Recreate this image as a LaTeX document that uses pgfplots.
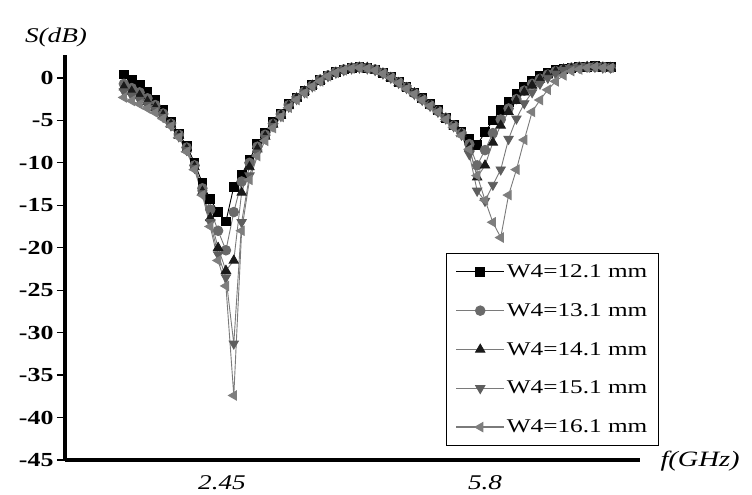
\documentclass[border=0pt]{standalone}
\usepackage{fontspec}
\setmainfont{Liberation Serif}[FakeStretch=1.3]
\usepackage{pgfplots}
\usepackage{pgfplotstable}
\pgfplotsset{compat=1.18}
\definecolor{c12}{HTML}{000000}
\definecolor{c13}{HTML}{6A6A6A}
\definecolor{c14}{HTML}{1A1A1A}
\definecolor{c15}{HTML}{5E5E5E}
\definecolor{c16}{HTML}{7E7E7E}
\definecolor{ln}{HTML}{7A7A7A}
\pgfplotstableread{
f a b c d e
1.2 0.4 -0.7 -1.1 -1.6 -2.3
1.3 -0.2 -1.2 -1.6 -2.1 -2.7
1.4 -0.8 -1.7 -2.1 -2.6 -3.1
1.5 -1.6 -2.4 -2.8 -3.2 -3.6
1.6 -2.6 -3.2 -3.5 -3.8 -4.1
1.7 -3.8 -4.2 -4.4 -4.6 -4.8
1.8 -5.2 -5.4 -5.5 -5.6 -5.7
1.9 -6.6 -6.7 -6.8 -6.9 -7.0
2.0 -8.0 -8.2 -8.4 -8.5 -8.7
2.1 -10.0 -10.3 -10.5 -10.6 -10.8
2.2 -12.4 -13.0 -13.4 -13.6 -13.8
2.3 -14.3 -15.5 -16.5 -17.0 -17.5
2.4 -15.8 -18.0 -20.0 -20.8 -21.5
2.5 -16.9 -20.3 -22.7 -23.5 -24.5
2.6 -12.8 -15.8 -21.5 -31.3 -37.4
2.7 -11.4 -12.2 -13.5 -17.0 -18.0
2.8 -9.6 -10.0 -10.5 -11.5 -12.0
2.9 -7.8 -8.1 -8.4 -8.8 -9.2
3.0 -6.5 -6.7 -6.9 -7.1 -7.4
3.1 -5.2 -5.4 -5.5 -5.7 -5.9
3.2 -4.2 -4.3 -4.4 -4.5 -4.6
3.3 -3.1 -3.2 -3.3 -3.4 -3.5
3.4 -2.3 -2.4 -2.4 -2.5 -2.6
3.5 -1.5 -1.6 -1.6 -1.7 -1.8
3.6 -0.8 -0.9 -0.9 -1.0 -1.0
3.7 -0.2 -0.2 -0.3 -0.3 -0.4
3.8 0.3 0.3 0.2 0.2 0.2
3.9 0.7 0.7 0.6 0.6 0.6
4.0 1.0 1.0 0.9 0.9 0.9
4.1 1.2 1.2 1.1 1.1 1.1
4.2 1.3 1.3 1.2 1.2 1.2
4.3 1.2 1.2 1.2 1.1 1.1
4.4 1.0 1.0 0.9 0.9 0.9
4.5 0.6 0.6 0.5 0.5 0.5
4.6 0.1 0.1 0.0 0.0 0.0
4.7 -0.5 -0.5 -0.6 -0.6 -0.6
4.8 -1.1 -1.1 -1.2 -1.2 -1.3
4.9 -1.7 -1.8 -1.8 -1.9 -1.9
5.0 -2.4 -2.5 -2.5 -2.6 -2.6
5.1 -3.1 -3.2 -3.2 -3.3 -3.3
5.2 -3.8 -3.9 -3.9 -4.0 -4.0
5.3 -4.7 -4.7 -4.8 -4.8 -4.9
5.4 -5.5 -5.6 -5.7 -5.7 -5.8
5.5 -6.3 -6.5 -6.6 -6.7 -6.8
5.6 -7.2 -7.8 -8.2 -9.0 -8.4
5.7 -7.9 -10.3 -11.7 -13.3 -11.5
5.8 -6.4 -8.5 -10.3 -14.5 -14.4
5.9 -5.0 -6.5 -7.6 -12.6 -17.0
6.0 -3.8 -4.9 -5.6 -10.8 -18.8
6.1 -2.8 -3.6 -4.0 -7.2 -13.8
6.2 -1.9 -2.5 -2.7 -4.8 -10.8
6.3 -1.1 -1.5 -1.7 -3.0 -7.3
6.4 -0.4 -0.7 -0.9 -1.7 -4.0
6.5 0.2 -0.1 -0.2 -0.7 -2.6
6.6 0.6 0.4 0.3 0.0 -1.4
6.7 0.9 0.8 0.7 0.5 -0.4
6.8 1.1 1.0 1.0 0.9 0.3
6.9 1.2 1.2 1.1 1.1 0.8
7.0 1.3 1.3 1.2 1.2 1.0
7.1 1.3 1.3 1.3 1.3 1.2
7.2 1.4 1.3 1.3 1.3 1.3
7.3 1.3 1.3 1.2 1.2 1.2
7.4 1.3 1.2 1.2 1.2 1.2
}\datatable
\begin{document}
\begin{tikzpicture}
\begin{axis}[
  scale only axis, width=575bp, height=405bp,
  xmin=0.45, xmax=7.774, ymin=-45, ymax=2.7,
  axis lines=left,
  axis line style={-, line width=4.2bp, black},
  xtick={2.45,5.8}, xticklabels={2.45,5.8},
  ytick={-45,-40,...,0},
  tick align=outside,
  major tick length=8bp,
  ytick style={line width=1.3bp, black},
  xtick style={draw=none},
  /pgf/number format/assume math mode=true,
  yticklabel style={font=\bfseries\fontsize{20}{20}\selectfont},
  xticklabel style={font=\itshape\fontsize{21}{21}\selectfont, yshift=-4bp},
  legend style={at={(axis description cs:0.6626,0.511)}, anchor=north west,
    draw=black, line width=1.2bp, font=\fontsize{19.5}{19.5}\selectfont,
    row sep=20.5bp, inner xsep=9bp, inner ysep=9bp},
  legend cell align=left,
  legend image code/.code={%
    \draw[#1, line width=1.3bp] (0bp,0bp) -- (48bp,0bp);
    \draw[#1, only marks] plot coordinates {(24bp,0bp)};},
  every axis plot/.append style={line width=0.9bp},
]
\addplot[color=c12, mark=square*, mark size=4.4bp, mark options={fill=c12, draw=c12}] table[x=f,y=a]{\datatable};
\addlegendentry{W4=12.1 mm}
\addplot[color=ln, mark=*, mark size=4.8bp, mark options={fill=c13, draw=c13}] table[x=f,y=b]{\datatable};
\addlegendentry{W4=13.1 mm}
\addplot[color=ln, mark=triangle*, mark size=5.3bp, mark options={fill=c14, draw=c14}] table[x=f,y=c]{\datatable};
\addlegendentry{W4=14.1 mm}
\addplot[color=ln, mark=triangle*, mark size=5.3bp, mark options={fill=c15, draw=c15, rotate=180}] table[x=f,y=d]{\datatable};
\addlegendentry{W4=15.1 mm}
\addplot[color=ln, mark=triangle*, mark size=5.3bp, mark options={fill=c16, draw=c16, rotate=90}] table[x=f,y=e]{\datatable};
\addlegendentry{W4=16.1 mm}
\end{axis}
\node[font=\itshape\fontsize{21}{21}\selectfont] at (-9bp,423bp) {S(dB)};
\node[font=\itshape\fontsize{22}{22}\selectfont, anchor=west] at (592bp,-1bp) {f(GHz)};
\pgfresetboundingbox
\path (-65bp,-35bp) rectangle (687bp,460bp);
\end{tikzpicture}
\end{document}
